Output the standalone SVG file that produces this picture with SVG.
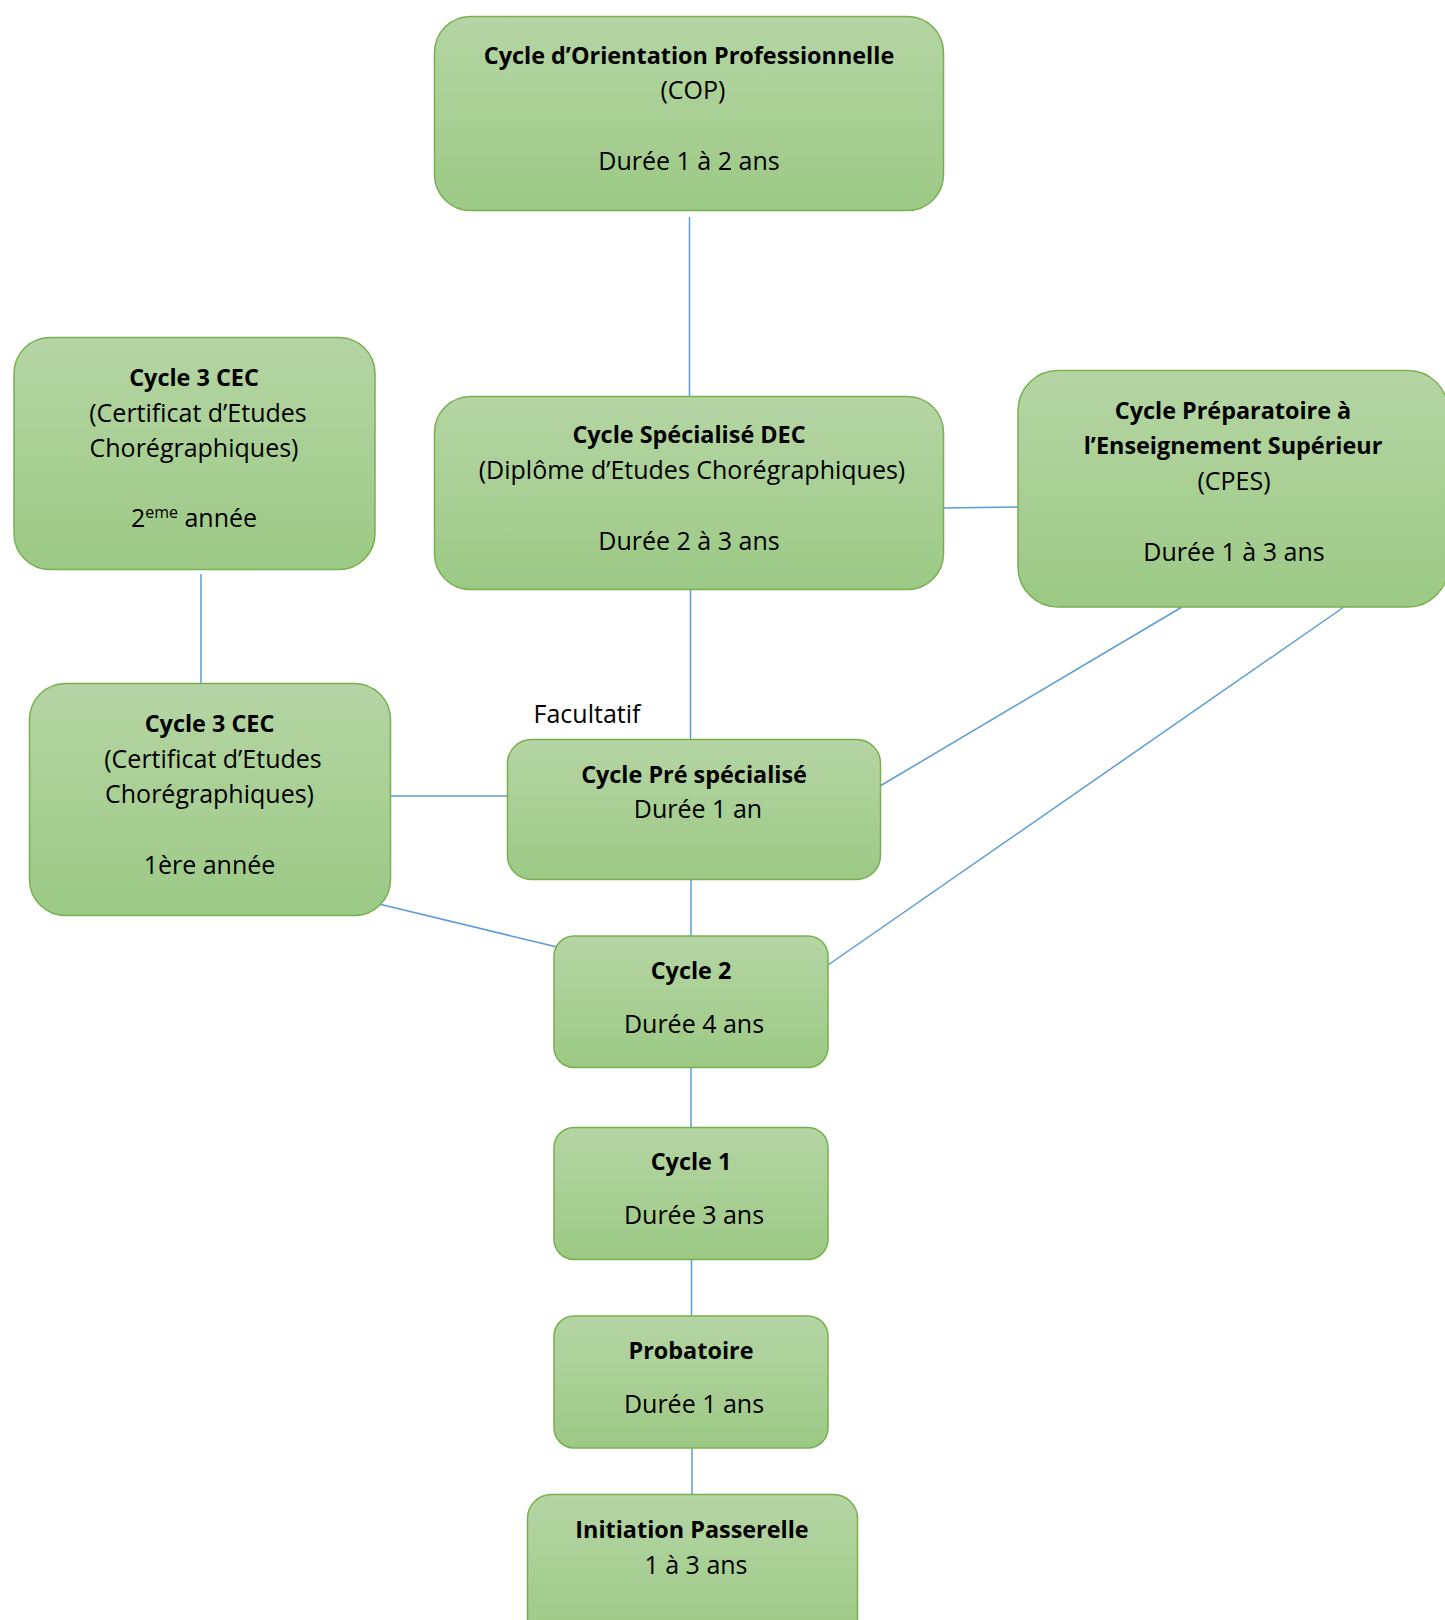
<svg xmlns="http://www.w3.org/2000/svg" width="1445" height="1620" viewBox="0 0 1445 1620">
<defs>
<linearGradient id="g" x1="0" y1="0" x2="0" y2="1">
<stop offset="0" stop-color="#B5D5A4"/>
<stop offset="1" stop-color="#9CC985"/>
</linearGradient>
</defs>
<style>
.box{fill:url(#g);stroke:#78B04F;stroke-width:1.5}
.t{font-family:"Open Sans","Noto Sans",sans-serif;font-size:25px;fill:#000;text-anchor:middle}
.b{font-weight:bold;font-size:23.4px}
.c{stroke:#5B9BD5;stroke-width:1.5;fill:none}
</style>
<rect width="1445" height="1620" fill="#fff"/>
<g id="connectors">
<line class="c" x1="689.5" y1="217" x2="689.5" y2="396"/>
<line class="c" x1="943" y1="508" x2="1018" y2="507"/>
<line class="c" x1="690.5" y1="589" x2="690.5" y2="739"/>
<line class="c" x1="201" y1="574" x2="201" y2="683"/>
<line class="c" x1="390" y1="796" x2="507" y2="796"/>
<line class="c" x1="1182" y1="607" x2="880" y2="786"/>
<line class="c" x1="1344" y1="607" x2="828" y2="965"/>
<line class="c" x1="379" y1="904" x2="557" y2="947"/>
<line class="c" x1="691" y1="879" x2="691" y2="936"/>
<line class="c" x1="691" y1="1067" x2="691" y2="1127"/>
<line class="c" x1="691.5" y1="1259" x2="691.5" y2="1316"/>
<line class="c" x1="692" y1="1448" x2="692" y2="1494"/>
</g>
<g id="cop">
<rect class="box" x="434.5" y="16.5" width="509" height="194" rx="36"/>
<text class="t b" x="689" y="64">Cycle d’Orientation Professionnelle</text>
<text class="t" x="693" y="99">(COP)</text>
<text class="t" x="689" y="170">Durée 1 à 2 ans</text>
</g>
<g id="cec2">
<rect class="box" x="14" y="337.5" width="361" height="232" rx="36"/>
<text class="t b" x="194" y="386">Cycle 3 CEC</text>
<text class="t" x="198" y="422">(Certificat d’Etudes</text>
<text class="t" x="194" y="457">Chorégraphiques)</text>
<text class="t" x="194" y="527">2<tspan font-size="16" dy="-9">eme</tspan><tspan dy="9"> année</tspan></text>
</g>
<g id="dec">
<rect class="box" x="434.5" y="396.5" width="509" height="193" rx="36"/>
<text class="t b" x="689" y="443">Cycle Spécialisé DEC</text>
<text class="t" x="692" y="479">(Diplôme d’Etudes Chorégraphiques)</text>
<text class="t" x="689" y="550">Durée 2 à 3 ans</text>
</g>
<g id="cpes">
<rect class="box" x="1018" y="370.5" width="430" height="236.5" rx="40"/>
<text class="t b" x="1233" y="419">Cycle Préparatoire à</text>
<text class="t b" x="1233" y="454">l’Enseignement Supérieur</text>
<text class="t" x="1234" y="490">(CPES)</text>
<text class="t" x="1234" y="561">Durée 1 à 3 ans</text>
</g>
<g id="cec1">
<rect class="box" x="29.5" y="683.5" width="361" height="232" rx="36"/>
<text class="t b" x="209.5" y="732">Cycle 3 CEC</text>
<text class="t" x="213" y="768">(Certificat d’Etudes</text>
<text class="t" x="209.5" y="803">Chorégraphiques)</text>
<text class="t" x="209.5" y="874">1ère année</text>
</g>
<text class="t" x="587" y="723">Facultatif</text>
<g id="prespe">
<rect class="box" x="507.5" y="739.5" width="373" height="140" rx="24"/>
<text class="t b" x="694" y="783">Cycle Pré spécialisé</text>
<text class="t" x="698" y="818">Durée 1 an</text>
</g>
<g id="cycle2">
<rect class="box" x="554" y="936" width="274" height="131.5" rx="20"/>
<text class="t b" x="691" y="979">Cycle 2</text>
<text class="t" x="694" y="1033">Durée 4 ans</text>
</g>
<g id="cycle1">
<rect class="box" x="554" y="1127.5" width="274" height="132" rx="20"/>
<text class="t b" x="691" y="1170">Cycle 1</text>
<text class="t" x="694" y="1224">Durée 3 ans</text>
</g>
<g id="probatoire">
<rect class="box" x="554" y="1316" width="274" height="132" rx="20"/>
<text class="t b" x="691" y="1359">Probatoire</text>
<text class="t" x="694" y="1413">Durée 1 ans</text>
</g>
<g id="initiation">
<rect class="box" x="527.5" y="1494.5" width="330" height="150" rx="24"/>
<text class="t b" x="692" y="1538">Initiation Passerelle</text>
<text class="t" x="696" y="1574">1 à 3 ans</text>
</g>
</svg>
